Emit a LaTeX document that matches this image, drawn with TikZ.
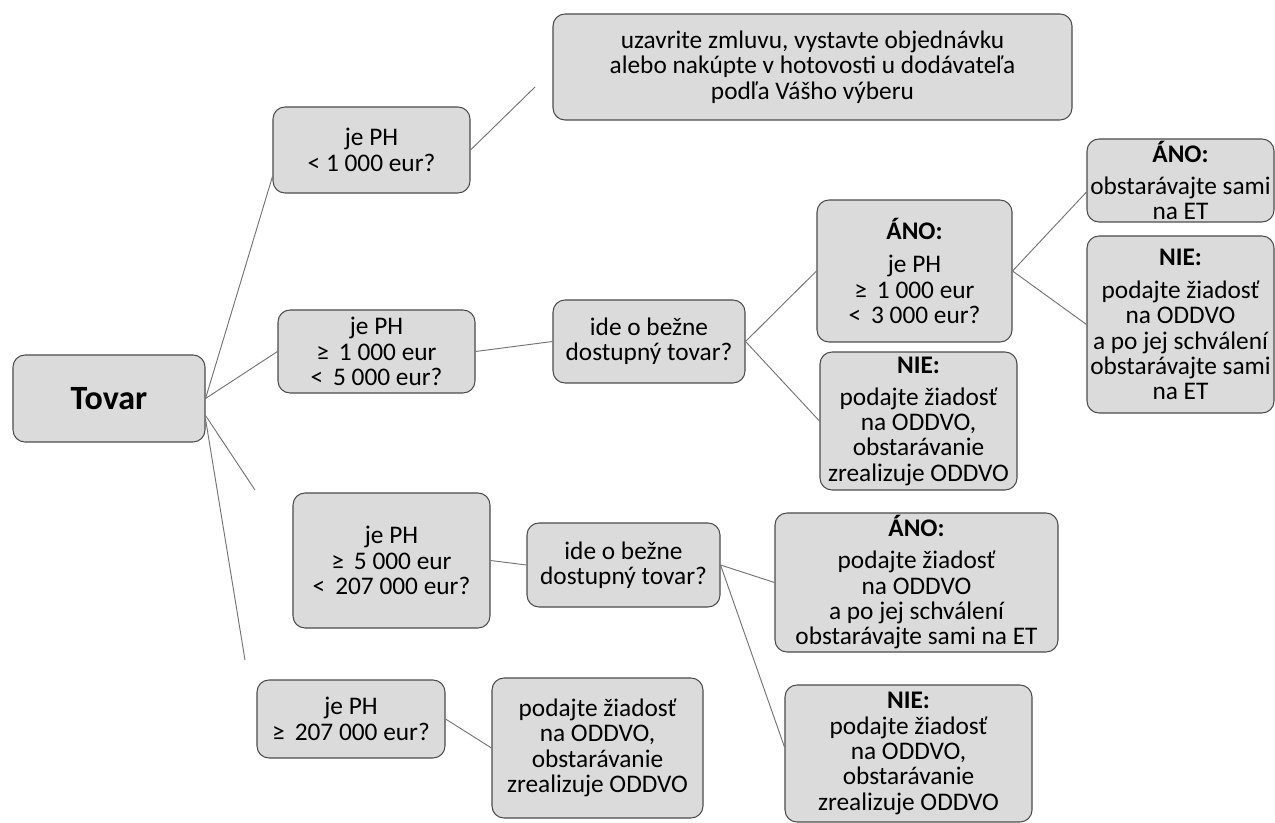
\documentclass[tikz,border=0pt]{standalone}
\usepackage{fontspec}
\setmainfont{Carlito}
\begin{document}
\begin{tikzpicture}[x=0.75pt,y=-0.75pt,
  box/.style={draw=black!70, line width=0.8pt, fill=black!14, rounded corners=9pt,
    align=center, inner sep=0pt, font=\fontsize{19}{19}\selectfont},
  sz/.style 2 args={minimum width=#1*0.75pt, minimum height=#2*0.75pt},
  conn/.style={draw=black!55, line width=0.7pt}]
\useasboundingbox (0,0) rectangle (1275,823);
% nodes
\node[box, sz={192}{87}, font=\fontsize{25.5}{26}\selectfont\bfseries] (tovar) at (109,398.5) {Tovar};
\node[box, sz={197}{86}] (a1) at (371.5,150) {je PH\\< 1 000 eur?};
\node[box, sz={519}{106}] (top) at (812.5,67) {uzavrite zmluvu, vystavte objednávku\\alebo nakúpte v hotovosti u dodávateľa\\podľa Vášho výberu};
\node[box, sz={197}{83}] (a2) at (376.5,351.5) {je PH\\≥ \,1 000 eur\\< \,5 000 eur?};
\node[box, sz={192}{83}] (b2) at (649,341.5) {ide o bežne\\dostupný tovar?};
\node[box, sz={195}{142}] (c1) at (914.5,271) {\textbf{ÁNO:}\\[6pt]je PH\\≥ \,1 000 eur\\< \,3 000 eur?};
\node[box, sz={197}{138}] (c2) at (918.5,421) {\textbf{NIE:}\\[5pt]podajte žiadosť\\na ODDVO,\\obstarávanie\\zrealizuje ODDVO};
\node[box, sz={187}{83}] (d1) at (1180.5,180.5) {\textbf{ÁNO:}\\[5pt]obstarávajte sami\\na ET};
\node[box, sz={187}{177}] (d2) at (1180.5,324.5) {\textbf{NIE:}\\[6pt]podajte žiadosť\\na ODDVO\\a po jej schválení\\obstarávajte sami\\na ET};
\node[box, sz={197}{135}] (a3) at (391.5,560.5) {je PH\\≥ \,5 000 eur\\< \,207 000 eur?};
\node[box, sz={193}{84}] (b3) at (623.5,565) {ide o bežne\\dostupný tovar?};
\node[box, sz={283}{139}] (c3) at (916.5,582.5) {\textbf{ÁNO:}\\[5pt]podajte žiadosť\\na ODDVO\\a po jej schválení\\obstarávajte sami na ET};
\node[box, sz={247}{137}] (c4) at (908.5,753.5) {\textbf{NIE:}\\podajte žiadosť\\na ODDVO,\\obstarávanie\\zrealizuje ODDVO};
\node[box, sz={188}{78}] (a4) at (351,719) {je PH\\≥ \,207 000 eur?};
\node[box, sz={211}{140}] (b4) at (597.5,748) {podajte žiadosť\\na ODDVO,\\obstarávanie\\zrealizuje ODDVO};
% free ends
\coordinate (p1) at (535,87);
\coordinate (t3) at (255,490);
\coordinate (t4) at (245,660);
% connectors
\draw[conn] (tovar.east) -- (a1.195);
\draw[conn] (tovar.east) -- (a2.west);
\draw[conn] (tovar.-10) -- (t3);
\draw[conn] (tovar.-12) -- (t4);
\draw[conn] (a1.east) -- (p1);
\draw[conn] (a2.east) -- (b2.west);
\draw[conn] (b2.east) -- (c1.west);
\draw[conn] (b2.east) -- (c2.west);
\draw[conn] (c1.east) -- (d1.187);
\draw[conn] (c1.east) -- (d2.west);
\draw[conn] (a3.east) -- (b3.west);
\draw[conn] (b3.east) -- (c3.west);
\draw[conn] (b3.east) -- (c4.177);
\draw[conn] (a4.east) -- (b4.west);
\end{tikzpicture}
\end{document}
